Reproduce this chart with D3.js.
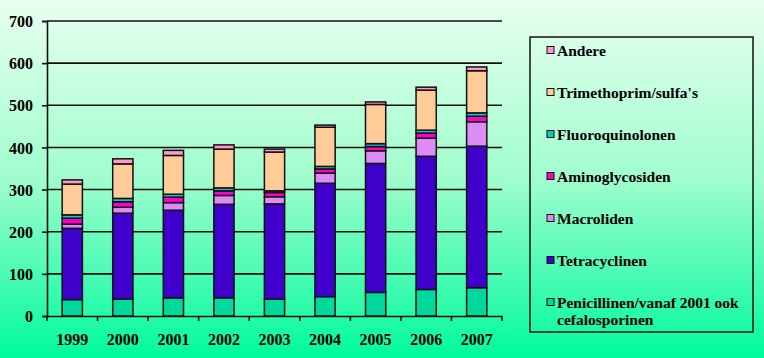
<!DOCTYPE html>
<html><head><meta charset="utf-8">
<script src="https://cdn.jsdelivr.net/npm/d3@7"></script>
<style>body{margin:0;padding:0;overflow:hidden;}svg{display:block;}</style>
</head><body>
<svg id="c" width="764" height="358"></svg>
<script>
const years = ['1999','2000','2001','2002','2003','2004','2005','2006','2007'];
const seriesNames = ['Penicillinen/vanaf 2001 ook cefalosporinen','Tetracyclinen','Macroliden','Aminoglycosiden','Fluoroquinolonen',"Trimethoprim/sulfa's",'Andere'];
const penicillinen = [39,40,43,43,40,46,56,63,67];
const tetracyclinen = [169,204,208,222,226,269,306,316,336];
const macroliden = [10,14,18,21,17,24,30,43,58];
const aminoglycosiden = [14,13,13,11,10,10,10,12,13];
const fluoroquinolonen = [8,8,7,7,4,6,7,7,8];
const trimethoprim = [73,82,92,92,92,93,93,95,100];
const andere = [10,12,12,10,7,5,6,7,9];
const yTicks = [0,100,200,300,400,500,600,700];
const colors = ['#00D89C','#4000CC','#DD8CF5','#FF00CC','#00CCCC','#FFCC99','#FF99CC'];

const seriesVals = [penicillinen,tetracyclinen,macroliden,aminoglycosiden,fluoroquinolonen,trimethoprim,andere];
const keys = seriesNames;
const table = years.map((y,i)=>{const o={year:y};keys.forEach((k,j)=>o[k]=seriesVals[j][i]);return o;});

const svg = d3.select('#c');
const defs = svg.append('defs');
const g = defs.append('linearGradient').attr('id','bg').attr('x1',0).attr('y1',0).attr('x2',0).attr('y2',1);
g.append('stop').attr('offset','0%').attr('stop-color','#E8FFF0');
g.append('stop').attr('offset','50%').attr('stop-color','#A0FDCD');
g.append('stop').attr('offset','100%').attr('stop-color','#00FA9C');
svg.append('rect').attr('width',764).attr('height',358).attr('fill','url(#bg)');

const x = d3.scaleBand().domain(years).range([47,502]).paddingInner(0.6).paddingOuter(0.3);
const y = d3.scaleLinear().domain([0,700]).range([316,21]);

// gridlines
svg.append('g').selectAll('line').data(yTicks.filter(t=>t>0)).join('line')
  .attr('x1',47).attr('x2',502).attr('y1',d=>y(d)).attr('y2',d=>y(d))
  .attr('stroke','#111').attr('stroke-width',1.6);

const stack = d3.stack().keys(keys)(table);
svg.append('g').selectAll('g').data(stack).join('g')
  .attr('fill',(d,i)=>colors[i])
  .selectAll('rect').data(d=>d).join('rect')
  .attr('x',d=>x(d.data.year)).attr('width',x.bandwidth())
  .attr('y',d=>y(d[1])).attr('height',d=>y(d[0])-y(d[1]))
  .attr('stroke','#111').attr('stroke-width',1.5);

// y axis
const yAxis = d3.axisLeft(y).tickValues(yTicks).tickSize(5).tickPadding(9);
const ya = svg.append('g').attr('transform','translate(47,0)').call(yAxis);
ya.select('.domain').attr('stroke','#111').attr('stroke-width',1.6);
ya.selectAll('.tick line').attr('stroke','#111').attr('stroke-width',1.6);
ya.selectAll('text').attr('font-family','"Liberation Serif", "Times New Roman", serif').attr('font-weight','bold').attr('font-size',16).attr('fill','#000').attr('dy','0.35em');

// x axis
const xa = svg.append('g').attr('transform','translate(0,316)').call(d3.axisBottom(x).tickSize(0).tickPadding(18));
xa.select('.domain').attr('stroke','#111').attr('stroke-width',1.6);
xa.selectAll('text').attr('font-family','"Liberation Serif", "Times New Roman", serif').attr('font-weight','bold').attr('font-size',16).attr('fill','#000');
// tick marks between categories
const bounds = d3.range(years.length+1).map(i=>x.range()[0]+i*x.step());
xa.append('g').selectAll('line').data(bounds).join('line')
  .attr('x1',d=>d).attr('x2',d=>d).attr('y1',0).attr('y2',5)
  .attr('stroke','#111').attr('stroke-width',1.6);

// legend
const lg = svg.append('g');
lg.append('rect').attr('x',530).attr('y',37).attr('width',223).attr('height',295)
  .attr('fill','none').attr('stroke','#111').attr('stroke-width',1.5);
const legendItems = keys.map((k,i)=>({k,i})).reverse();
const ly = d3.scalePoint().domain(legendItems.map(d=>d.k)).range([50.5,302.5]);
const li = lg.selectAll('g.it').data(legendItems).join('g').attr('class','it')
  .attr('transform',d=>`translate(0,${ly(d.k)})`);
li.append('rect').attr('x',547).attr('y',-4).attr('width',7).attr('height',7)
  .attr('fill',d=>colors[d.i]).attr('stroke','#111').attr('stroke-width',1);
li.append('text').attr('x',557).attr('y',0).attr('dy','0.35em')
  .attr('font-family','"Liberation Serif", "Times New Roman", serif').attr('font-weight','bold').attr('font-size',15.5).attr('fill','#000')
  .each(function(d){
    const t=d3.select(this);
    if(d.i===0){
      t.append('tspan').attr('x',557).text('Penicillinen/vanaf 2001 ook');
      t.append('tspan').attr('x',557).attr('dy','1.1em').text('cefalosporinen');
    } else t.text(d.k);
  });
</script>
</body></html>
